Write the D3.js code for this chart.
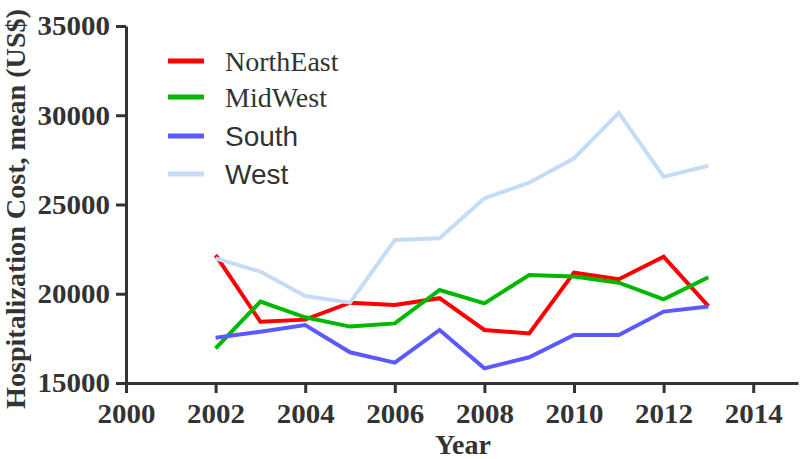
<!DOCTYPE html>
<html lang="en">
<head>
    <meta charset="UTF-8">
    <title>Hospitalization Cost by Region</title>
    <style>
        body, html {
            margin: 0;
            background-color: #fff;
        }
        svg { display: block; }
        .tick-label {
            font-family: "Liberation Serif", "Times New Roman", serif;
            font-weight: bold;
            font-size: 27px;
            fill: #333;
        }
        .axis-title {
            font-family: "Liberation Serif", "Times New Roman", serif;
            font-weight: bold;
            font-size: 28px;
            fill: #333;
        }
    </style>
    <script src="https://d3js.org/d3.v7.min.js"></script>
</head>
<body>
    <div id="chart"></div>
    <script>
        const width = 800;
        const height = 459;

        // data
        const years = [2002, 2003, 2004, 2005, 2006, 2007, 2008, 2009, 2010, 2011, 2012, 2013];
        const northEast = [22170, 18430, 18550, 19500, 19370, 19750, 17970, 17780, 21180, 20810, 22080, 19310];
        const midWest   = [16940, 19560, 18680, 18160, 18340, 20210, 19460, 21050, 20960, 20620, 19690, 20920];
        const south     = [17540, 17870, 18250, 16720, 16140, 17970, 15820, 16440, 17690, 17690, 19000, 19280];
        const west      = [21980, 21240, 19870, 19500, 23010, 23110, 25350, 26220, 27590, 30140, 26560, 27170];

        const seriesNames = ["NorthEast", "MidWest", "South", "West"];
        const seriesValues = [northEast, midWest, south, west];
        const seriesColors = ["#ff0000", "#00b800", "#5a5aff", "#c6dcf6"];
        const legendFonts = ["Liberation Serif", "Liberation Serif", "Liberation Sans", "Liberation Sans"];

        const xTicks = [2000, 2002, 2004, 2006, 2008, 2010, 2012, 2014];
        const yTicks = [15000, 20000, 25000, 30000, 35000];

        const svg = d3.select("#chart").append("svg")
            .attr("width", width)
            .attr("height", height);

        const x = d3.scaleLinear().domain([2000, 2015]).range([126, 798]);
        const y = d3.scaleLinear().domain([15000, 35000]).range([383, 26]);

        // axes
        const xAxis = svg.append("g")
            .attr("transform", `translate(0,${y(15000)})`)
            .call(d3.axisBottom(x).tickValues(xTicks).tickFormat(d3.format("d")).tickSize(10).tickPadding(11).tickSizeOuter(0));

        const yAxis = svg.append("g")
            .attr("transform", `translate(${x(2000)},0)`)
            .call(d3.axisLeft(y).tickValues(yTicks).tickFormat(d3.format("d")).tickSize(10).tickPadding(6).tickSizeOuter(0));

        [xAxis, yAxis].forEach(g => {
            g.select(".domain").attr("stroke", "#333").attr("stroke-width", 3);
            g.selectAll(".tick line").attr("stroke", "#333").attr("stroke-width", 3);
            g.selectAll(".tick text")
                .attr("class", "tick-label")
                .attr("font-size", null)
                .attr("font-family", null)
                .attr("textLength", d => String(d).length * 14.5)
                .attr("lengthAdjust", "spacingAndGlyphs");
        });
        yAxis.selectAll(".tick text").attr("dy", "0.33em");

        // lines
        const line = d3.line()
            .x((d, i) => x(years[i]))
            .y(d => y(d));

        svg.append("g")
            .selectAll("path")
            .data(seriesValues)
            .enter().append("path")
            .attr("d", line)
            .attr("fill", "none")
            .attr("stroke", (d, i) => seriesColors[i])
            .attr("stroke-width", 4);

        // legend
        const legendY = [61, 97, 136, 174];
        const legend = svg.append("g")
            .selectAll("g")
            .data(seriesNames)
            .enter().append("g")
            .attr("transform", (d, i) => `translate(168,${legendY[i]})`);

        legend.append("line")
            .attr("x1", 0).attr("x2", 36)
            .attr("y1", 0).attr("y2", 0)
            .attr("stroke", (d, i) => seriesColors[i])
            .attr("stroke-width", 5);

        legend.append("text")
            .attr("x", 57)
            .attr("y", 10)
            .attr("font-family", (d, i) => legendFonts[i])
            .attr("font-size", 28)
            .attr("fill", "#333")
            .text(d => d);

        // axis titles
        svg.append("text")
            .attr("class", "axis-title")
            .attr("text-anchor", "middle")
            .attr("x", (x(2000) + 800) / 2)
            .attr("y", 454)
            .attr("font-size", 27)
            .text("Year");

        svg.append("text")
            .attr("class", "axis-title")
            .attr("text-anchor", "middle")
            .attr("transform", "translate(25,209) rotate(-90)")
            .attr("font-size", 25)
            .attr("textLength", 400)
            .attr("lengthAdjust", "spacingAndGlyphs")
            .text("Hospitalization Cost, mean (US$)");
    </script>
</body>
</html>
